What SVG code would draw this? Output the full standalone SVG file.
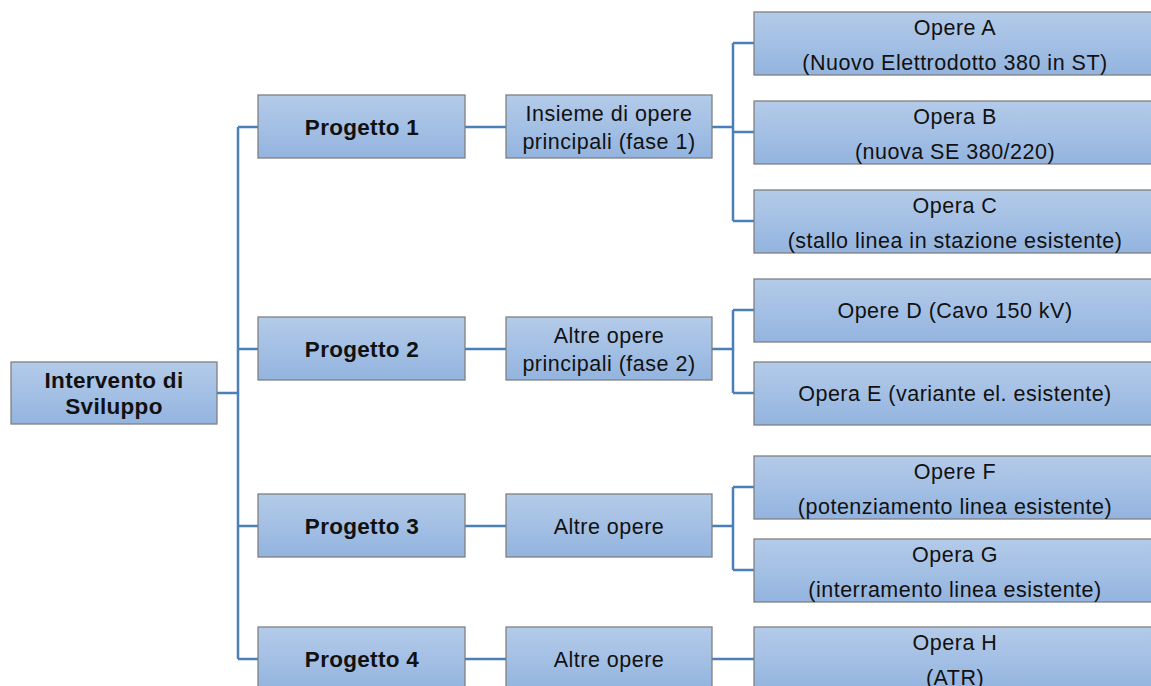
<svg xmlns="http://www.w3.org/2000/svg" width="1151" height="686" viewBox="0 0 1151 686">
<defs>
<linearGradient id="g" x1="0" y1="0" x2="0" y2="1">
<stop offset="0" stop-color="#b4cbe9"/>
<stop offset="1" stop-color="#93b4df"/>
</linearGradient>
<style>
.box{fill:url(#g);stroke:#808080;stroke-width:1.3}
.t{font-family:"Liberation Sans",Arial,sans-serif;font-size:21.5px;letter-spacing:0.5px;fill:#111;text-anchor:middle}
.b{font-weight:bold;font-size:22.5px;letter-spacing:0.3px}
.c{fill:none;stroke:#4a7fb8;stroke-width:2.5}
</style>
</defs>
<rect width="1151" height="686" fill="#fff"/>
<g id="connectors">
<path class="c" d="M217 393 H238 M238 127 V659 M238 127 H258 M238 349 H258 M238 526 H258 M238 659 H258"/>
<path class="c" d="M465 127 H506 M465 349 H506 M465 526 H506 M465 659 H506"/>
<path class="c" d="M712 127 H733 M733 43 V221 M733 43 H754 M733 132 H754 M733 221 H754"/>
<path class="c" d="M712 349 H733 M733 310 V393 M733 310 H754 M733 393 H754"/>
<path class="c" d="M712 526 H733 M733 487 V570 M733 487 H754 M733 570 H754"/>
<path class="c" d="M712 659 H754"/>
</g>
<g id="root"><rect class="box" x="11" y="362" width="206" height="62"/><text class="t b" x="114" y="388">Intervento di</text><text class="t b" x="114" y="414">Sviluppo</text></g>
<g id="p1"><rect class="box" x="258" y="95" width="207" height="63"/><text class="t b" x="362" y="135">Progetto 1</text></g>
<g id="p2"><rect class="box" x="258" y="317" width="207" height="63"/><text class="t b" x="362" y="357">Progetto 2</text></g>
<g id="p3"><rect class="box" x="258" y="494" width="207" height="63"/><text class="t b" x="362" y="534">Progetto 3</text></g>
<g id="p4"><rect class="box" x="258" y="627" width="207" height="63"/><text class="t b" x="362" y="667">Progetto 4</text></g>
<g id="m1"><rect class="box" x="506" y="95" width="206" height="63"/><text class="t" x="609" y="121">Insieme di opere</text><text class="t" x="609" y="149">principali (fase 1)</text></g>
<g id="m2"><rect class="box" x="506" y="317" width="206" height="63"/><text class="t" x="609" y="343">Altre opere</text><text class="t" x="609" y="371">principali (fase 2)</text></g>
<g id="m3"><rect class="box" x="506" y="494" width="206" height="63"/><text class="t" x="609" y="534">Altre opere</text></g>
<g id="m4"><rect class="box" x="506" y="627" width="206" height="63"/><text class="t" x="609" y="667">Altre opere</text></g>
<g id="oA"><rect class="box" x="754" y="12" width="402" height="63"/><text class="t" x="955" y="35">Opere A</text><text class="t" x="955" y="70">(Nuovo Elettrodotto 380 in ST)</text></g>
<g id="oB"><rect class="box" x="754" y="101" width="402" height="63"/><text class="t" x="955" y="124">Opera B</text><text class="t" x="955" y="159">(nuova SE 380/220)</text></g>
<g id="oC"><rect class="box" x="754" y="190" width="402" height="63"/><text class="t" x="955" y="213">Opera C</text><text class="t" x="955" y="248">(stallo linea in stazione esistente)</text></g>
<g id="oD"><rect class="box" x="754" y="279" width="402" height="63"/><text class="t" x="955" y="318">Opere D (Cavo 150 kV)</text></g>
<g id="oE"><rect class="box" x="754" y="362" width="402" height="63"/><text class="t" x="955" y="401">Opera E (variante el. esistente)</text></g>
<g id="oF"><rect class="box" x="754" y="456" width="402" height="63"/><text class="t" x="955" y="479">Opere F</text><text class="t" x="955" y="514">(potenziamento linea esistente)</text></g>
<g id="oG"><rect class="box" x="754" y="539" width="402" height="63"/><text class="t" x="955" y="562">Opera G</text><text class="t" x="955" y="597">(interramento linea esistente)</text></g>
<g id="oH"><rect class="box" x="754" y="627" width="402" height="63"/><text class="t" x="955" y="650">Opera H</text><text class="t" x="955" y="685">(ATR)</text></g>
</svg>
